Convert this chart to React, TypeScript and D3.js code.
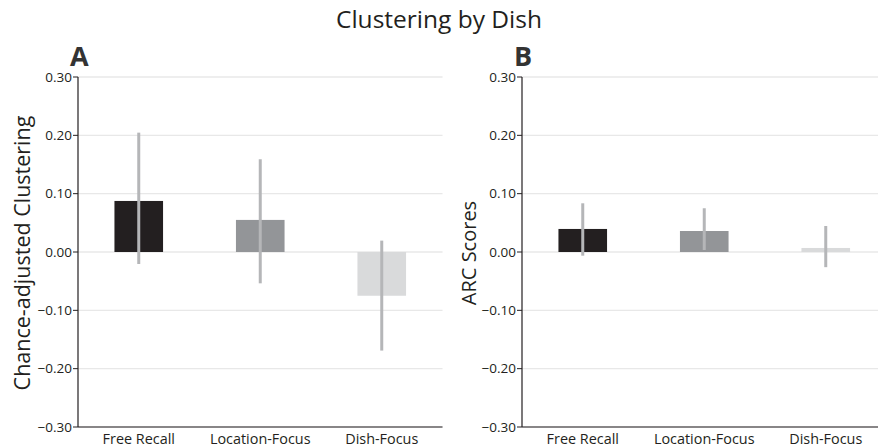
import React from "react";
import * as d3 from "d3";

const categories = ["Free Recall", "Location-Focus", "Dish-Focus"];
const barColors = ["#231f20", "#939598", "#d9dadb"];

const clusteringMeans = [0.0875, 0.055, -0.075];
const clusteringLow = [-0.0206, -0.0537, -0.169];
const clusteringHigh = [0.2046, 0.159, 0.0195];

const arcMeans = [0.0395, 0.036, 0.0069];
const arcLow = [-0.0063, 0.0034, -0.026];
const arcHigh = [0.0835, 0.075, 0.0446];

const yTicks = [-0.3, -0.2, -0.1, 0, 0.1, 0.2, 0.3];

const FONT = "'Open Sans', 'Noto Sans', sans-serif";

type PanelProps = {
  x0: number;
  letter: string;
  yTitle: string;
  means: number[];
  low: number[];
  high: number[];
  yTitleX: number;
  yTitleSize: number;
};

function Panel({ x0, letter, yTitle, means, low, high, yTitleX, yTitleSize }: PanelProps) {
  const top = 77;
  const bottom = 427;
  const width = 364.5;
  const y = d3.scaleLinear().domain([-0.3, 0.3]).range([bottom, top]);
  const x = d3.scaleBand<string>().domain(categories).range([x0, x0 + width]).paddingInner(0.6).paddingOuter(0.3);
  const fmt = d3.format(".2f");
  return (
    <g>
      {yTicks.map((t) => (
        <line key={"g" + t} x1={x0} x2={x0 + width} y1={y(t)} y2={y(t)} stroke="#e8e8e8" strokeWidth={1.3} />
      ))}
      {categories.map((c, i) => {
        const v = means[i];
        return (
          <rect key={c} x={x(c)} width={x.bandwidth()} y={Math.min(y(v), y(0))} height={Math.abs(y(v) - y(0))} fill={barColors[i]} />
        );
      })}
      {categories.map((c, i) => (
        <line key={"e" + c} x1={x(c)! + x.bandwidth() / 2} x2={x(c)! + x.bandwidth() / 2} y1={y(low[i])} y2={y(high[i])} stroke="#b5b6b8" strokeWidth={3} />
      ))}
      <line x1={x0} x2={x0} y1={top} y2={bottom} stroke="#231f20" strokeWidth={1.2} />
      <line x1={x0} x2={x0 + width} y1={bottom} y2={bottom} stroke="#231f20" strokeWidth={1.2} />
      {yTicks.map((t) => (
        <g key={"t" + t}>
          <line x1={x0 - 5} x2={x0} y1={y(t)} y2={y(t)} stroke="#231f20" strokeWidth={1} />
          <text x={x0 - 6} y={y(t)} dy="0.35em" textAnchor="end" fontSize={13.5} fill="#231f20" fontFamily={FONT}>
            {t === 0 ? "0.00" : fmt(t)}
          </text>
        </g>
      ))}
      {categories.map((c) => (
        <text key={"l" + c} x={x(c)! + x.bandwidth() / 2} y={444} textAnchor="middle" fontSize={14.4} fill="#231f20" fontFamily={FONT}>
          {c}
        </text>
      ))}
      <text x={x0 - 8} y={66} fontSize={27} fontWeight="bold" fill="#333" fontFamily={FONT}>
        {letter}
      </text>
      <text transform={`translate(${yTitleX},${253}) rotate(-90)`} textAnchor="middle" fontSize={yTitleSize} fill="#231f20" fontFamily={FONT}>
        {yTitle}
      </text>
    </g>
  );
}

export default function App() {
  return (
    <svg width={878} height={448} style={{ position: "absolute", left: 0, top: 0, background: "#fff" }}>
      <rect width={878} height={448} fill="#fff" />
      <text x={439} y={28} textAnchor="middle" fontSize={24.5} fill="#231f20" fontFamily={FONT}>
        Clustering by Dish
      </text>
      <Panel x0={78} letter="A" yTitle="Chance-adjusted Clustering" means={clusteringMeans} low={clusteringLow} high={clusteringHigh} yTitleX={30} yTitleSize={21.5} />
      <Panel x0={522} letter="B" yTitle="ARC Scores" means={arcMeans} low={arcLow} high={arcHigh} yTitleX={476} yTitleSize={20} />
    </svg>
  );
}
